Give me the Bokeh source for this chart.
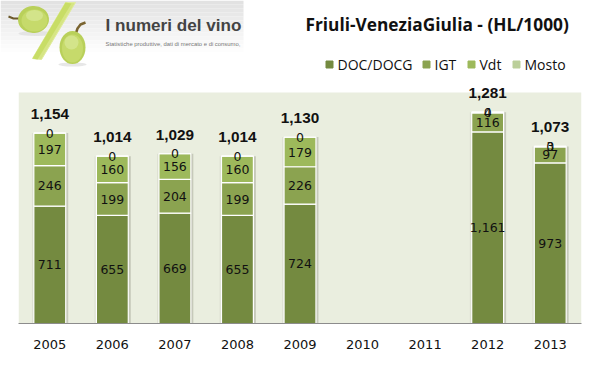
import numpy as np
from bokeh.embed import file_html
from bokeh.resources import INLINE
from bokeh.layouts import column
from bokeh.models import ColumnDataSource, Range1d, BoxAnnotation
from bokeh.plotting import figure
from bokeh.transform import dodge
from bokeh.core.properties import value

years = ["2005", "2006", "2007", "2008", "2009", "2010", "2011", "2012", "2013"]
doc = [711, 655, 669, 655, 724, None, None, 1161, 973]
igt = [246, 199, 204, 199, 226, None, None, 116, 97]
vdt = [197, 160, 156, 160, 179, None, None, 4, 3]
mosto = [0, 0, 0, 0, 0, None, None, 0, 0]
totals = [1154, 1014, 1029, 1014, 1130, None, None, 1281, 1073]
series_names = ["DOC/DOCG", "IGT", "Vdt", "Mosto"]
series_colors = ["#748A40", "#8BA350", "#9DB95B", "#BBCF9A"]
title_text = "Friuli-VeneziaGiulia - (HL/1000)"
logo_title = "I numeri del vino"
logo_sub = "Statistiche produttive, dati di mercato e di consumo,"

W = 599
HEAD_H = 78
CHART_H = 301
NUM = "DejaVu Sans"

# ---------- header: logo, title, legend (page-pixel coordinates) ----------
h = figure(width=W, height=HEAD_H, output_backend="svg", toolbar_location=None,
           x_range=Range1d(0, W), y_range=Range1d(HEAD_H, 0), frame_align=False,
           min_border=0, outline_line_color=None, background_fill_color="white", border_fill_color="white")
h.axis.visible = False
h.grid.visible = False

# logo gradient
steps = np.arange(0, 64, 4)
h.quad(left=0, right=243, top=steps, bottom=steps + 4, line_color=None,
       fill_color=[f"#{g:02x}{g:02x}{g:02x}" for g in (226 + (29 * np.minimum(steps / 50, 1)).astype(int))])
# shadows
h.ellipse(x=[36, 72], y=[33, 64], width=[36, 28], height=[5, 4], fill_color="#dddddd", fill_alpha=.7, line_color=None)
# stems
h.line([8, 13, 19], [16, 18, 18], line_color="#6d5a2c", line_width=2)
h.line([85, 80, 77, 75], [22, 24, 28, 34], line_color="#7a6430", line_width=2.5)
# slash
h.patch([65, 75, 41, 32], [2, 2, 59, 58], fill_color="#d6e584", line_color="#e0ec9c")
h.patch([65, 71, 37, 32], [2, 3, 59, 58], fill_color="#c8dd66", line_color=None)
# grapes
h.ellipse(x=[33, 72], y=[19, 47], width=[31, 26], height=[27, 33], angle=[0.1, 0.0],
          fill_color="#b9d05a", line_color=None)
h.ellipse(x=[34, 72], y=[20, 48], width=[26, 21], height=[22, 28], fill_color="#c6da6b", line_color=None)
h.ellipse(x=[34, 71], y=[15, 42], width=[17, 14], height=[11, 14], fill_color="#d3e48a", line_color=None)
# logo text
h.text(x=[105], y=[25], text=[logo_title], text_font=value("Liberation Sans"), text_font_style="bold",
       text_font_size="17.1px", text_color="#444444", text_baseline="middle")
h.text(x=[105], y=[43], text=[logo_sub], text_font=value("Liberation Sans"),
       text_font_size="5.9px", text_color="#777777", text_baseline="middle")
# title
h.text(x=[305], y=[24], text=[title_text], text_font=value("Open Sans"), text_font_style="bold",
       text_font_size="17.3px", text_color="#111111", text_baseline="middle")
# legend
leg_sq = [329, 426, 471, 516]
leg_tx = [337, 434, 479, 524]
h.scatter(x=leg_sq, y=[64] * 4, marker="square", size=7, color=series_colors)
h.text(x=leg_tx, y=[64] * 4, text=series_names, text_font=value("Open Sans"), text_font_size="14px",
       text_color="#111111", text_baseline="middle")

# ---------- chart ----------
num = lambda a: np.array(a, dtype=float)
source = ColumnDataSource(dict(year=years, doc=num(doc), igt=num(igt), vdt=num(vdt), mosto=num(mosto), total=num(totals)))

p = figure(width=W, height=CHART_H, x_range=years, y_range=Range1d(0, 1485), output_backend="svg",
           toolbar_location=None, min_border_left=18, min_border_right=18, min_border_top=0, min_border_bottom=56,
           frame_align=False,
           outline_line_color=None, background_fill_color="white", border_fill_color="white")
p.add_layout(BoxAnnotation(top=1400, bottom=0, fill_color="#EAEEDF", fill_alpha=1, line_color=None, level="underlay"))
p.grid.visible = False
p.yaxis.visible = False
p.xaxis.axis_line_color = "#8c8c8c"
p.xaxis.axis_line_width = 1
p.xaxis.major_tick_line_color = None
p.xaxis.minor_tick_line_color = None
p.xaxis.major_label_text_font = NUM
p.xaxis.major_label_text_font_size = "13px"
p.xaxis.major_label_text_color = "#111111"
p.xaxis.major_label_standoff = 10

BAR = 0.51
p.vbar(x=dodge("year", 0.04, range=p.x_range), top="total", bottom=0, width=BAR, source=source,
       fill_color="#c6c9ba", line_color=None)
p.vbar(x=dodge("year", -0.03, range=p.x_range), top="total", bottom=0, width=BAR, source=source,
       fill_color="#dde0d2", line_color=None)
p.vbar_stack(["doc", "igt", "vdt", "mosto"], x="year", width=BAR, source=source,
             color=series_colors, line_color="white", line_width=1.2)

lab_x, lab_y, lab_t = [], [], []
tot_x, tot_y, tot_t = [], [], []
for i, yr in enumerate(years):
    if doc[i] is None:
        continue
    base = 0
    for s in (doc, igt, vdt, mosto):
        lab_x.append(yr)
        lab_y.append(base + s[i] / 2)
        lab_t.append(f"{s[i]:,}")
        base += s[i]
    tot_x.append(yr)
    tot_y.append(totals[i])
    tot_t.append(f"{totals[i]:,}")

p.text(x=lab_x, y=lab_y, text=lab_t, text_font=value(NUM), text_font_size="12.5px", text_color="#111111",
       text_align="center", text_baseline="middle")
p.text(x=tot_x, y=tot_y, text=tot_t, y_offset=-19, text_font=value("Liberation Sans"), text_font_style="bold",
       text_font_size="15.3px", text_color="#111111", text_align="center", text_baseline="middle")

layout = column(h, p, spacing=0)
open("out.html", "w").write(file_html(layout, INLINE))
